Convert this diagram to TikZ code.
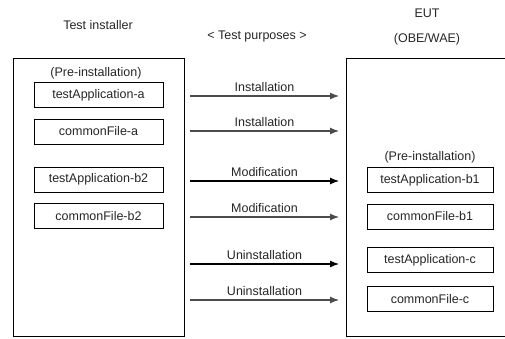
\documentclass[tikz,border=0pt]{standalone}
\usepackage{fontspec}
\setmainfont{Liberation Sans}
\usetikzlibrary{arrows.meta}

\tikzset{
  filebox/.style={draw, line width=0.9pt, minimum width=129pt, minimum height=25pt, inner sep=0pt},
  sidebox/.style={draw, line width=0.9pt, inner sep=0pt},
  flow/.style={-{Latex[length=9pt,width=7pt]}, line width=1.1pt, draw=black!70},
  flowsolid/.style={flow, draw=black},
  txt/.style={inner sep=0pt, font=\fontsize{12.5}{14}\selectfont}
}

\begin{document}
\begin{tikzpicture}[x=1pt, y=-1pt, font=\fontsize{12.5}{14}\selectfont, text=black!85]
            \useasboundingbox (0,0) rectangle (505,338);

            % Headings
            \node[txt] (tihead) at (98,25) {Test installer};
            \node[txt] (tphead) at (257,36) {< Test purposes >};
            \node[txt] (euthead) at (427,13) {EUT};
            \node[txt] (eutsub) at (427,39) {(OBE/WAE)};

            % Outer boxes
            \node[sidebox, minimum width=171pt, minimum height=278pt] (installer) at (98.5,197) {};
            \node[sidebox, minimum width=180pt, minimum height=278pt] (eut) at (436,197) {};

            % Installer side
            \node[txt] (preleft) at (96,73) {(Pre-installation)};
            \node[filebox] (appa) at (98.5,95) {testApplication-a};
            \node[filebox] (filea) at (98.5,131.5) {commonFile-a};
            \node[filebox] (appbtwo) at (98.5,179.5) {testApplication-b2};
            \node[filebox] (filebtwo) at (98.5,216) {commonFile-b2};

            % EUT side
            \node[txt] (preright) at (430,157) {(Pre-installation)};
            \node[filebox, minimum width=126pt] (appbone) at (430,180) {testApplication-b1};
            \node[filebox, minimum width=126pt] (filebone) at (430,216.5) {commonFile-b1};
            \node[filebox, minimum width=126pt] (appc) at (430,260) {testApplication-c};
            \node[filebox, minimum width=126pt] (filec) at (430,299) {commonFile-c};

            % Arrow ends
            \coordinate (s1) at (190,96);  \coordinate (e1) at (339,96);
            \coordinate (s2) at (190,131); \coordinate (e2) at (339,131);
            \coordinate (s3) at (190,181); \coordinate (e3) at (339,181);
            \coordinate (s4) at (190,217); \coordinate (e4) at (339,217);
            \coordinate (s5) at (190,264); \coordinate (e5) at (339,264);
            \coordinate (s6) at (190,300); \coordinate (e6) at (339,300);

            % Lines
            \draw[flow] (s1) -- node[above=4pt, txt] {Installation} (e1);
            \draw[flow] (s2) -- node[above=4pt, txt] {Installation} (e2);
            \draw[flowsolid] (s3) -- node[above=4pt, txt] {Modification} (e3);
            \draw[flow] (s4) -- node[above=4pt, txt] {Modification} (e4);
            \draw[flowsolid] (s5) -- node[above=4pt, txt] {Uninstallation} (e5);
            \draw[flow] (s6) -- node[above=4pt, txt] {Uninstallation} (e6);
\end{tikzpicture}
\end{document}
